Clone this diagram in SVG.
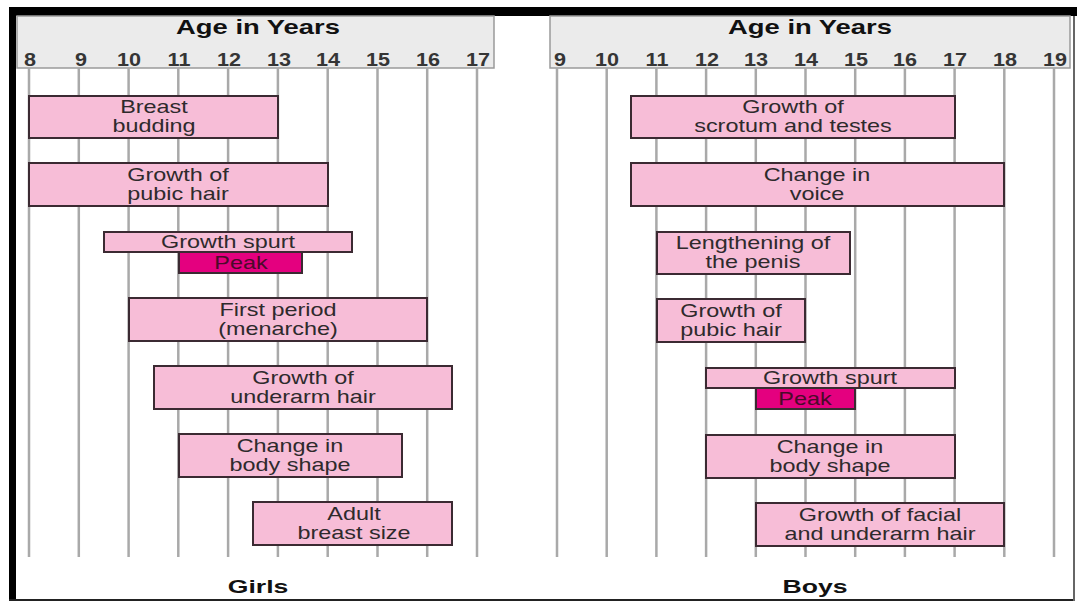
<svg xmlns="http://www.w3.org/2000/svg" width="1077" height="603" viewBox="0 0 1077 603">
<style>
text{font-family:"Liberation Sans",Arial,sans-serif;text-anchor:middle}
.hdr{fill:#ebebeb;stroke:#9a9a9a;stroke-width:1.5}
.title{font-size:20px;font-weight:bold;fill:#111}
.num{font-size:18px;font-weight:bold;fill:#353535}
.grid line{stroke:#a9a9a9;stroke-width:2.5}
.bar{fill:#f7bdd7;stroke:#3b2a32;stroke-width:2}
.peak{fill:#e4007f;stroke:#3b2a32;stroke-width:2}
.lbl{font-size:18px;fill:#2e2a2c}
.plbl{font-size:18px;fill:#4a0a2a}
.sex{font-size:19px;font-weight:bold;fill:#111}
</style>
<rect x="0" y="0" width="1077" height="603" fill="#ffffff"/>
<g id="frame">
<rect x="9" y="7" width="1068" height="9" fill="#000"/>
<rect x="9" y="7" width="7" height="594" fill="#000"/>
<line x1="9" y1="600" x2="1075" y2="600" stroke="#222" stroke-width="2"/>
<line x1="1074" y1="16" x2="1074" y2="601" stroke="#666" stroke-width="2"/>
</g>
<g id="girls-axis">
<rect class="hdr" x="17" y="16" width="477" height="52"/>
<text class="title" transform="translate(258,34) scale(1.37,1)">Age in Years</text>
<text class="num" transform="translate(30,66) scale(1.2,1)">8</text>
<text class="num" transform="translate(81,66) scale(1.2,1)">9</text>
<text class="num" transform="translate(129,66) scale(1.2,1)">10</text>
<text class="num" transform="translate(179,66) scale(1.2,1)">11</text>
<text class="num" transform="translate(229,66) scale(1.2,1)">12</text>
<text class="num" transform="translate(279,66) scale(1.2,1)">13</text>
<text class="num" transform="translate(328,66) scale(1.2,1)">14</text>
<text class="num" transform="translate(378,66) scale(1.2,1)">15</text>
<text class="num" transform="translate(428,66) scale(1.2,1)">16</text>
<text class="num" transform="translate(478,66) scale(1.2,1)">17</text>
</g>
<g id="boys-axis">
<rect class="hdr" x="550" y="16" width="520" height="52"/>
<text class="title" transform="translate(810,34) scale(1.37,1)">Age in Years</text>
<text class="num" transform="translate(560,66) scale(1.2,1)">9</text>
<text class="num" transform="translate(607,66) scale(1.2,1)">10</text>
<text class="num" transform="translate(657,66) scale(1.2,1)">11</text>
<text class="num" transform="translate(707,66) scale(1.2,1)">12</text>
<text class="num" transform="translate(756,66) scale(1.2,1)">13</text>
<text class="num" transform="translate(806,66) scale(1.2,1)">14</text>
<text class="num" transform="translate(856,66) scale(1.2,1)">15</text>
<text class="num" transform="translate(905,66) scale(1.2,1)">16</text>
<text class="num" transform="translate(955,66) scale(1.2,1)">17</text>
<text class="num" transform="translate(1005,66) scale(1.2,1)">18</text>
<text class="num" transform="translate(1055,66) scale(1.2,1)">19</text>
</g>
<g id="connectors" class="grid">
<line x1="29" y1="68" x2="29" y2="557"/>
<line x1="78.8" y1="68" x2="78.8" y2="557"/>
<line x1="128.6" y1="68" x2="128.6" y2="557"/>
<line x1="178.3" y1="68" x2="178.3" y2="557"/>
<line x1="228.1" y1="68" x2="228.1" y2="557"/>
<line x1="277.9" y1="68" x2="277.9" y2="557"/>
<line x1="327.7" y1="68" x2="327.7" y2="557"/>
<line x1="377.5" y1="68" x2="377.5" y2="557"/>
<line x1="427.2" y1="68" x2="427.2" y2="557"/>
<line x1="477" y1="68" x2="477" y2="557"/>
<line x1="557" y1="68" x2="557" y2="557"/>
<line x1="606.7" y1="68" x2="606.7" y2="557"/>
<line x1="656.4" y1="68" x2="656.4" y2="557"/>
<line x1="706.1" y1="68" x2="706.1" y2="557"/>
<line x1="755.8" y1="68" x2="755.8" y2="557"/>
<line x1="805.5" y1="68" x2="805.5" y2="557"/>
<line x1="855.2" y1="68" x2="855.2" y2="557"/>
<line x1="904.9" y1="68" x2="904.9" y2="557"/>
<line x1="954.6" y1="68" x2="954.6" y2="557"/>
<line x1="1004.3" y1="68" x2="1004.3" y2="557"/>
<line x1="1054" y1="68" x2="1054" y2="557"/>
</g>
<g id="g-breast-budding">
<rect class="bar" x="29" y="96" width="249" height="42"/>
<text class="lbl" transform="translate(154,113) scale(1.3,1)">Breast</text>
<text class="lbl" transform="translate(154,132) scale(1.3,1)">budding</text>
</g>
<g id="g-pubic-hair">
<rect class="bar" x="29" y="163" width="299" height="43"/>
<text class="lbl" transform="translate(178,181) scale(1.3,1)">Growth of</text>
<text class="lbl" transform="translate(178,200) scale(1.3,1)">pubic hair</text>
</g>
<g id="g-growth-spurt">
<rect class="bar" x="104" y="232" width="248" height="20"/>
<text class="lbl" transform="translate(228,248) scale(1.3,1)">Growth spurt</text>
</g>
<g id="g-peak">
<rect class="peak" x="179" y="252" width="123" height="21"/>
<text class="plbl" transform="translate(241,269) scale(1.3,1)">Peak</text>
</g>
<g id="g-first-period">
<rect class="bar" x="129" y="298" width="298" height="43"/>
<text class="lbl" transform="translate(278,316) scale(1.3,1)">First period</text>
<text class="lbl" transform="translate(278,335) scale(1.3,1)">(menarche)</text>
</g>
<g id="g-underarm-hair">
<rect class="bar" x="154" y="366" width="298" height="43"/>
<text class="lbl" transform="translate(303,384) scale(1.3,1)">Growth of</text>
<text class="lbl" transform="translate(303,403) scale(1.3,1)">underarm hair</text>
</g>
<g id="g-body-shape">
<rect class="bar" x="179" y="434" width="223" height="43"/>
<text class="lbl" transform="translate(290,452) scale(1.3,1)">Change in</text>
<text class="lbl" transform="translate(290,471) scale(1.3,1)">body shape</text>
</g>
<g id="g-adult-breast">
<rect class="bar" x="253" y="502" width="199" height="43"/>
<text class="lbl" transform="translate(354,520) scale(1.3,1)">Adult</text>
<text class="lbl" transform="translate(354,539) scale(1.3,1)">breast size</text>
</g>
<g id="b-scrotum">
<rect class="bar" x="631" y="96" width="324" height="42"/>
<text class="lbl" transform="translate(793,113) scale(1.3,1)">Growth of</text>
<text class="lbl" transform="translate(793,132) scale(1.3,1)">scrotum and testes</text>
</g>
<g id="b-voice">
<rect class="bar" x="631" y="163" width="373" height="43"/>
<text class="lbl" transform="translate(817,181) scale(1.3,1)">Change in</text>
<text class="lbl" transform="translate(817,200) scale(1.3,1)">voice</text>
</g>
<g id="b-penis">
<rect class="bar" x="657" y="232" width="193" height="42"/>
<text class="lbl" transform="translate(753,249) scale(1.3,1)">Lengthening of</text>
<text class="lbl" transform="translate(753,268) scale(1.3,1)">the penis</text>
</g>
<g id="b-pubic-hair">
<rect class="bar" x="657" y="299" width="148" height="43"/>
<text class="lbl" transform="translate(731,317) scale(1.3,1)">Growth of</text>
<text class="lbl" transform="translate(731,336) scale(1.3,1)">pubic hair</text>
</g>
<g id="b-growth-spurt">
<rect class="bar" x="706" y="368" width="249" height="20"/>
<text class="lbl" transform="translate(830,384) scale(1.3,1)">Growth spurt</text>
</g>
<g id="b-peak">
<rect class="peak" x="756" y="388" width="99" height="21"/>
<text class="plbl" transform="translate(805,405) scale(1.3,1)">Peak</text>
</g>
<g id="b-body-shape">
<rect class="bar" x="706" y="435" width="249" height="43"/>
<text class="lbl" transform="translate(830,453) scale(1.3,1)">Change in</text>
<text class="lbl" transform="translate(830,472) scale(1.3,1)">body shape</text>
</g>
<g id="b-facial-hair">
<rect class="bar" x="756" y="503" width="248" height="43"/>
<text class="lbl" transform="translate(880,521) scale(1.3,1)">Growth of facial</text>
<text class="lbl" transform="translate(880,540) scale(1.3,1)">and underarm hair</text>
</g>
<g id="captions">
<text class="sex" transform="translate(258,593) scale(1.4,1)">Girls</text>
<text class="sex" transform="translate(815,593) scale(1.4,1)">Boys</text>
</g>
</svg>
